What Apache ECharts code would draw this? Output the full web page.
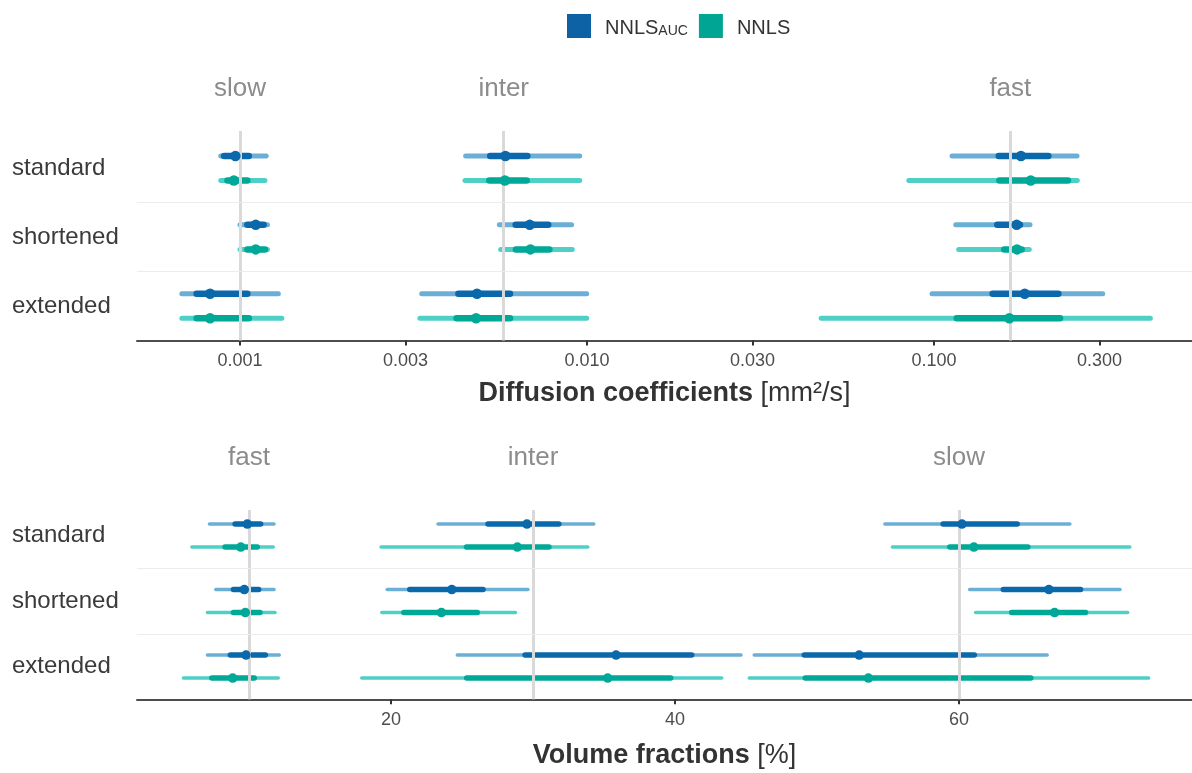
<!DOCTYPE html>
<html>
<head>
<meta charset="utf-8">
<title>NNLS estimates</title>
<script src="https://cdn.jsdelivr.net/npm/echarts@6/dist/echarts.min.js"></script>
<style>
  html, body { margin:0; padding:0; background:#fff; }
  #main { width:1192px; height:773px; }
</style>
</head>
<body>
<div id="main"></div>
<script>
var rows = ['standard', 'shortened', 'extended'];

// diffusion coefficients [mm²/s]
// [group, row, lo95, lo50, median, hi50, hi95]
var diffGroups = ['slow', 'inter', 'fast'];
var diffRef = [0.001, 0.0058, 0.166];
var diffTicks = [0.001, 0.003, 0.01, 0.03, 0.1, 0.3];
var diffAuc = [
  [0, 0, 0.00088, 0.00090, 0.00097, 0.00106, 0.00119],
  [0, 1, 0.00100, 0.00105, 0.00111, 0.00117, 0.00120],
  [0, 2, 0.00068, 0.00075, 0.00082, 0.00105, 0.00129],
  [1, 0, 0.00447, 0.00526, 0.00582, 0.00673, 0.00953],
  [1, 1, 0.00559, 0.00623, 0.00684, 0.00773, 0.00903],
  [1, 2, 0.00334, 0.00426, 0.00482, 0.00600, 0.00998],
  [2, 0, 0.1127, 0.1537, 0.1781, 0.2135, 0.2583],
  [2, 1, 0.1155, 0.1522, 0.1731, 0.1769, 0.1891],
  [2, 2, 0.0987, 0.1476, 0.1826, 0.2282, 0.3064]
];
var diffNnls = [
  [0, 0, 0.00088, 0.00092, 0.00096, 0.00105, 0.00118],
  [0, 1, 0.00100, 0.00105, 0.00111, 0.00118, 0.00120],
  [0, 2, 0.00068, 0.00075, 0.00082, 0.00106, 0.00132],
  [1, 0, 0.00445, 0.00523, 0.00580, 0.00670, 0.00953],
  [1, 1, 0.00564, 0.00624, 0.00687, 0.00779, 0.00907],
  [1, 2, 0.00330, 0.00421, 0.00479, 0.00600, 0.00998],
  [2, 0, 0.0846, 0.1543, 0.1900, 0.2433, 0.2588],
  [2, 1, 0.1178, 0.1594, 0.1735, 0.1789, 0.1882],
  [2, 2, 0.0473, 0.1163, 0.1648, 0.2308, 0.4202]
];

// volume fractions [%]
var volGroups = ['fast', 'inter', 'slow'];
var volRef = [10, 30, 60];
var volTicks = [20, 40, 60];
var volAuc = [
  [0, 0, 7.21, 9.02, 9.88, 10.82, 11.76],
  [0, 1, 7.66, 8.90, 9.67, 10.68, 11.76],
  [0, 2, 7.07, 8.68, 9.79, 11.15, 12.13],
  [1, 0, 23.31, 26.83, 29.57, 31.82, 34.28],
  [1, 1, 19.73, 21.32, 24.28, 26.48, 29.64],
  [1, 2, 24.67, 29.44, 35.85, 41.18, 44.65],
  [2, 0, 54.78, 58.88, 60.21, 64.10, 67.81],
  [2, 1, 60.75, 63.12, 66.33, 68.56, 71.34],
  [2, 2, 45.58, 49.10, 52.97, 61.08, 66.21]
];
var volNnls = [
  [0, 0, 5.97, 8.31, 9.42, 10.58, 11.71],
  [0, 1, 7.07, 8.90, 9.74, 10.77, 11.83],
  [0, 2, 5.38, 7.38, 8.85, 10.37, 12.06],
  [1, 0, 19.30, 25.31, 28.90, 31.12, 33.86],
  [1, 1, 19.35, 20.90, 23.55, 26.08, 28.76],
  [1, 2, 17.94, 25.33, 35.26, 39.70, 43.29],
  [2, 0, 55.31, 59.35, 61.05, 64.85, 72.03],
  [2, 1, 61.17, 63.71, 66.73, 68.91, 71.88],
  [2, 2, 45.23, 49.17, 53.62, 65.06, 73.36]
];

var FONT = '"Liberation Sans", Arial, Helvetica, sans-serif';
var colAuc = { thin: '#6cafd6', thick: '#0a68ab' };
var colNnls = { thin: '#4fd0c7', thick: '#00a898' };

function logT(v) { return Math.log10(v); }
function idT(v) { return v; }

function seg(width) {
  return function (params, api) {
    var y = api.value(2);
    var p1 = api.coord([api.value(0), y]);
    var p2 = api.coord([api.value(1), y]);
    return {
      type: 'line',
      shape: { x1: p1[0], y1: p1[1], x2: p2[0], y2: p2[1] },
      style: { stroke: api.visual('color'), lineWidth: width, lineCap: 'round' }
    };
  };
}

function panelSeries(idx, data, name, col, dy, tf, w) {
  var thin = [], thick = [], pts = [];
  data.forEach(function (d) {
    var y = d[1] + 0.5 + dy;
    thin.push([tf(d[2]), tf(d[6]), y]);
    thick.push([tf(d[3]), tf(d[5]), y]);
    pts.push([tf(d[4]), y]);
  });
  return [
    { type: 'custom', name: name, xAxisIndex: idx, yAxisIndex: idx, renderItem: seg(w[0]),
      encode: { x: [0, 1], y: 2 }, data: thin, itemStyle: { color: col.thin }, z: 3, silent: true },
    { type: 'custom', name: name, xAxisIndex: idx, yAxisIndex: idx, renderItem: seg(w[1]),
      encode: { x: [0, 1], y: 2 }, data: thick, itemStyle: { color: col.thick }, z: 4, silent: true },
    { type: 'scatter', name: name, xAxisIndex: idx, yAxisIndex: idx, data: pts, symbolSize: w[2],
      itemStyle: { color: col.thick, opacity: 1 }, z: 5, silent: true }
  ];
}

function guideSeries(idx, refs, groups, tf, dist) {
  var md = refs.map(function (r, i) {
    return {
      xAxis: tf(r),
      lineStyle: { color: '#d9d9d9', width: 3, type: 'solid' },
      label: { show: true, formatter: groups[i], position: 'start', distance: dist,
               fontSize: 26, color: '#8c8c8c', fontFamily: FONT }
    };
  });
  [1, 2].forEach(function (s) {
    md.push({ yAxis: s, lineStyle: { color: '#ececec', width: 1, type: 'solid' }, label: { show: false } });
  });
  return {
    type: 'line', xAxisIndex: idx, yAxisIndex: idx, data: [], z: 1, silent: true,
    markLine: { symbol: 'none', silent: true, animation: false, data: md }
  };
}

function xAxisOpt(idx, min, max, ticks, tf, fmt, name, gap) {
  var tv = ticks.map(tf);
  return {
    gridIndex: idx, type: 'value', min: min, max: max, position: 'bottom',
    axisLine: { show: true, onZero: false, lineStyle: { color: '#4d4d4d', width: 2 } },
    axisTick: { show: true, customValues: tv, length: 5, lineStyle: { color: '#333', width: 2 } },
    axisLabel: { customValues: tv, formatter: fmt, fontSize: 18, color: '#4d4d4d', margin: 12, fontFamily: FONT },
    splitLine: { show: false },
    name: name, nameLocation: 'middle', nameGap: gap,
    nameTextStyle: {
      fontSize: 27, color: '#333', fontFamily: FONT,
      rich: {
        b: { fontSize: 27, fontWeight: 'bold', color: '#333', fontFamily: FONT },
        n: { fontSize: 27, color: '#333', fontFamily: FONT }
      }
    }
  };
}

function yAxisOpt(idx, min) {
  return {
    gridIndex: idx, type: 'value', inverse: true, min: min, max: 3,
    axisLine: { show: false }, axisTick: { show: false }, splitLine: { show: false },
    axisLabel: {
      customValues: [0.5, 1.5, 2.5],
      formatter: function (v) { return rows[Math.floor(v)]; },
      align: 'left', margin: 125, fontSize: 24, color: '#3a3a3a', fontFamily: FONT,
      padding: [6, 0, 0, 0]
    }
  };
}

var series = [guideSeries(0, diffRef, diffGroups, logT, 29), guideSeries(1, volRef, volGroups, idT, 39)]
  .concat(panelSeries(0, diffAuc, 'auc', colAuc, -0.178, logT, [5, 6.5, 10.5]))
  .concat(panelSeries(0, diffNnls, 'nnls', colNnls, 0.178, logT, [5, 6.5, 10.5]))
  .concat(panelSeries(1, volAuc, 'auc', colAuc, -0.176, idT, [3.5, 5.5, 9.5]))
  .concat(panelSeries(1, volNnls, 'nnls', colNnls, 0.176, idT, [3.5, 5.5, 9.5]));

var chart = echarts.init(document.getElementById('main'));
chart.setOption({
  animation: false,
  backgroundColor: '#fff',
  textStyle: { fontFamily: FONT },
  legend: {
    left: 562, top: 9, itemWidth: 24, itemHeight: 24, itemGap: 11, icon: 'rect',
    selectedMode: false,
    data: [
      { name: 'auc', itemStyle: { color: '#0d62a6' } },
      { name: 'nnls', itemStyle: { color: '#00a593' } }
    ],
    formatter: function (n) { return n === 'auc' ? '{a|NNLS}{s|AUC}' : '{a|NNLS}'; },
    textStyle: {
      padding: [0, 0, 0, 9],
      rich: {
        a: { fontSize: 20, color: '#333', fontFamily: FONT, verticalAlign: 'bottom', lineHeight: 24 },
        s: { fontSize: 14, color: '#333', fontFamily: FONT, verticalAlign: 'bottom', lineHeight: 14, padding: [10, 0, 0, 0] }
      }
    }
  },
  grid: [
    { left: 137, right: 0, top: 131, height: 209.5 },
    { left: 137, right: 0, top: 510, height: 189.3 }
  ],
  xAxis: [
    xAxisOpt(0, -3.2968, -0.2565, diffTicks, logT,
      function (v) { return Math.pow(10, v).toFixed(3); },
      '{b|Diffusion coefficients} {n|[mm²/s]}', 40),
    xAxisOpt(1, 2.11, 76.41, volTicks, idT,
      function (v) { return String(Math.round(v)); },
      '{b|Volume fractions} {n|[%]}', 43)
  ],
  yAxis: [yAxisOpt(0, -0.04), yAxisOpt(1, 0.11)],
  series: series
});
</script>
</body>
</html>
